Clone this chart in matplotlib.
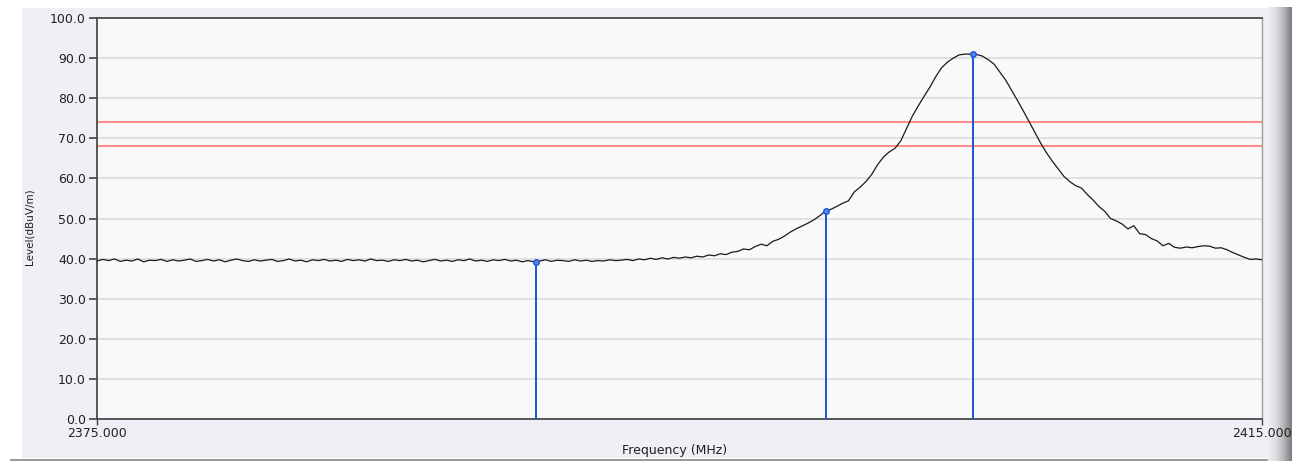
import numpy as np
import matplotlib
matplotlib.use("Agg")
import matplotlib.pyplot as plt
from matplotlib.patches import Rectangle

# spectrum sweep 2375 - 2415 MHz, one reading every 0.2 MHz
f_start = 2375.0
f_stop = 2415.0
level = [
    39.4, 39.8, 39.5, 39.9, 39.3, 39.6, 39.4, 39.9, 39.2, 39.6,
    39.5, 39.8, 39.3, 39.7, 39.4, 39.6, 39.9, 39.3, 39.5, 39.8,
    39.4, 39.7, 39.2, 39.6, 39.9, 39.5, 39.3, 39.7, 39.4, 39.6,
    39.8, 39.3, 39.5, 39.9, 39.4, 39.6, 39.2, 39.7, 39.5, 39.8,
    39.4, 39.6, 39.3, 39.8, 39.5, 39.7, 39.4, 39.9, 39.5, 39.6,
    39.3, 39.7, 39.5, 39.8, 39.4, 39.6, 39.2, 39.5, 39.8, 39.4,
    39.6, 39.3, 39.7, 39.5, 39.9, 39.4, 39.6, 39.3, 39.7, 39.5,
    39.8, 39.4, 39.6, 39.2, 39.5, 39.2, 39.4, 39.7, 39.3, 39.6,
    39.5, 39.3, 39.7, 39.4, 39.6, 39.3, 39.5, 39.4, 39.7, 39.5,
    39.6, 39.8, 39.5, 39.9, 39.7, 40.1, 39.8, 40.2, 39.9, 40.3,
    40.1, 40.4, 40.2, 40.6, 40.4, 40.9, 40.7, 41.2, 41.0, 41.6,
    41.8, 42.4, 42.2, 43.0, 43.6, 43.2, 44.3, 44.8, 45.6, 46.6,
    47.4, 48.1, 48.8, 49.6, 50.6, 51.8, 52.3, 53.0, 53.8, 54.4,
    56.6, 57.8, 59.2, 61.0, 63.4, 65.3, 66.6, 67.5, 69.4, 72.5,
    75.6, 78.1, 80.5, 82.8, 85.4, 87.6, 89.0, 90.0, 90.8, 91.0,
    91.0, 90.9, 90.5, 89.6, 88.5, 86.5, 84.5, 82.0, 79.5, 76.9,
    74.2, 71.5, 68.8, 66.4, 64.3, 62.4, 60.5, 59.2, 58.2, 57.6,
    56.0, 54.6, 53.0, 51.8, 50.0, 49.4, 48.6, 47.4, 48.2, 46.2,
    46.0, 45.0, 44.4, 43.2, 43.8, 42.8, 42.6, 42.9, 42.7, 43.0,
    43.2, 43.1, 42.6, 42.7, 42.2, 41.5, 40.9, 40.3, 39.8, 39.9,
    39.7,
]
freq = np.linspace(f_start, f_stop, len(level))

# markers
marker_freq = [2390.07, 2400.03, 2405.08]
marker_level = [39.2, 51.8, 91.0]

# limit lines
limits = [74.0, 68.0]

yticks = np.arange(0, 101, 10)
xticks = [f_start, f_stop]

fig = plt.figure(figsize=(13.01, 4.62), dpi=100)
fig.patch.set_facecolor("white")

W, H = 1301.0, 462.0
# window panel
fig.patches.append(Rectangle((22 / W, 1 - 458 / H), (1268 - 22) / W, (458 - 8) / H,
                             transform=fig.transFigure, facecolor="#f0eff5",
                             edgecolor="none", zorder=-5))
# bottom border line
fig.patches.append(Rectangle((10 / W, 1 - 461 / H), (1270 - 10) / W, 2.5 / H,
                             transform=fig.transFigure, facecolor="#9a9a9a",
                             edgecolor="none", zorder=-5))
# scroll-bar like strip on the right
gax = fig.add_axes([1268 / W, 1 - 461 / H, 24 / W, (461 - 7) / H])
grad = np.linspace(0, 1, 64).reshape(1, -1)
gax.imshow(grad, aspect="auto", cmap=matplotlib.colors.LinearSegmentedColormap.from_list(
    "bar", ["#f0eff5", "#dcdce0", "#b4b4b8", "#7a7a7e"]))
gax.axis("off")

ax = fig.add_axes([97 / W, 1 - 419 / H, (1262 - 97) / W, (419 - 18) / H])
ax.set_facecolor("#f9f9f9")

for y in yticks[1:-1]:
    ax.axhline(y, color="#dcdcdc", lw=1.2, zorder=1)

for lim in limits:
    ax.axhline(lim, color="#ff6b6b", lw=1.1, zorder=2)

ax.plot(freq, level, color="#1a1a1a", lw=0.9, zorder=3)

ax.vlines(marker_freq, 0, marker_level, color="#1a55d6", lw=1.4, zorder=4)
ax.plot(marker_freq, marker_level, "o", ms=4, mfc="#5a86e8", mec="#1a55d6",
        mew=1.0, zorder=5)

ax.set_xlim(f_start, f_stop)
ax.set_ylim(0, 100)
ax.set_yticks(yticks)
ax.set_yticklabels(["%.1f" % v for v in yticks])
ax.set_xticks(xticks)
ax.set_xticklabels(["%.3f" % v for v in xticks])

ax.tick_params(axis="y", direction="out", length=6, width=1.2, color="#404040",
               labelsize=9, labelcolor="#202020", pad=2)
ax.tick_params(axis="x", direction="out", length=4, width=1.0, color="#404040",
               labelsize=9, labelcolor="#202020", pad=2)

for side in ["left", "bottom", "top"]:
    ax.spines[side].set_color("#4a4a4a")
    ax.spines[side].set_linewidth(1.3)
ax.spines["right"].set_color("#a0a0a0")
ax.spines["right"].set_linewidth(1.0)

ax.set_ylabel("Level(dBuV/m)", fontsize=7.5, color="#202020")
ax.yaxis.set_label_coords(-0.054, 0.48)
ax.set_xlabel("Frequency (MHz)", fontsize=9, color="#202020")
ax.xaxis.set_label_coords(0.496, -0.062)

fig.savefig("out.png", dpi=100, facecolor=fig.get_facecolor())
